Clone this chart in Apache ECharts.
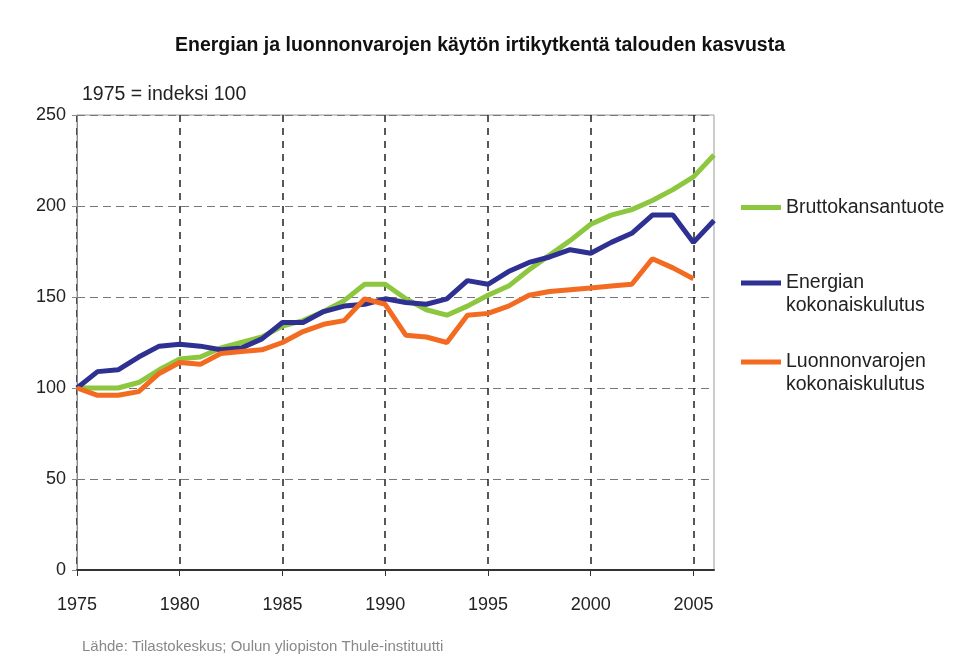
<!DOCTYPE html>
<html>
<head>
<meta charset="utf-8">
<script src="https://cdn.jsdelivr.net/npm/echarts@6/dist/echarts.min.js"></script>
<style>
html,body{margin:0;padding:0;background:#fff;}
#chart{width:960px;height:663px;}
</style>
</head>
<body>
<div id="chart"></div>
<script>
var years = [];
for (var y = 1975; y <= 2006; y++) years.push(String(y));

var seriesNames = ['Bruttokansantuote', 'Energian kokonaiskulutus', 'Luonnonvarojen kokonaiskulutus'];
var gdp = [100,100,100,103,110,116,117,122,125,128,134,137,142,148,157,157,149,143,140,145,151,156,165,173,181,190,195,198,203,209,216,228];
var energy = [100,109,110,117,123,124,123,121,122,127,136,136,142,145,146,149,147,146,149,159,157,164,169,172,176,174,180,185,195,195,180,192];
var resources = [100,96,96,98,108,114,113,119,120,121,125,131,135,137,149,146,129,128,125,140,141,145,151,153,154,155,156,157,171,166,160,null];
var colors = ['#8DC63F', '#2E3192', '#F26B21'];

var chart = echarts.init(document.getElementById('chart'));
var FONT = '"Liberation Sans", Arial, sans-serif';
function every5(idx, val) { return (parseInt(val, 10) - 1975) % 5 === 0; }

function legendFor(name, top) {
  return {
    show: true,
    data: [name],
    orient: 'vertical',
    left: 741,
    top: top,
    padding: 0,
    itemWidth: 40,
    itemHeight: 5,
    itemGap: 0,
    icon: 'rect',
    selectedMode: false,
    formatter: function (n) {
      // leading empty line keeps the icon level with the first text line
      if (n === 'Energian kokonaiskulutus') return '\nEnergian\nkokonaiskulutus';
      if (n === 'Luonnonvarojen kokonaiskulutus') return '\nLuonnonvarojen\nkokonaiskulutus';
      return n;
    },
    textStyle: { fontFamily: FONT, fontSize: 19.5, color: '#222', lineHeight: 23 }
  };
}

var option = {
  backgroundColor: '#fff',
  animation: false,
  title: [
    {
      text: 'Energian ja luonnonvarojen käytön irtikytkentä talouden kasvusta',
      left: 'center', top: 31,
      textStyle: { fontFamily: FONT, fontSize: 19.5, fontWeight: 'bold', color: '#111' }
    },
    {
      text: '1975 = indeksi 100',
      left: 77, top: 80,
      textStyle: { fontFamily: FONT, fontSize: 19.5, fontWeight: 'normal', color: '#222' }
    },
    {
      text: 'Lähde: Tilastokeskus; Oulun yliopiston Thule-instituutti',
      left: 77, top: 634,
      textStyle: { fontFamily: FONT, fontSize: 15, fontWeight: 'normal', color: '#888' }
    }
  ],
  legend: [
    legendFor(seriesNames[0], 196),
    legendFor(seriesNames[1], 248.5),
    legendFor(seriesNames[2], 327.5)
  ],
  grid: {
    left: 77, right: 246, top: 115, bottom: 93,
    show: true, borderColor: '#999', borderWidth: 1, backgroundColor: 'transparent'
  },
  xAxis: {
    type: 'category',
    data: years,
    boundaryGap: false,
    axisLine: { show: true, lineStyle: { color: '#333', width: 2 } },
    axisTick: { show: true, inside: false, length: 6, interval: every5, lineStyle: { color: '#333', width: 1 } },
    axisLabel: { interval: every5, margin: 26, fontFamily: FONT, fontSize: 18, color: '#222' },
    splitLine: { show: true, interval: every5, lineStyle: { color: '#222', type: [7, 6], width: 1.5 } }
  },
  yAxis: {
    type: 'value',
    min: 0, max: 250, interval: 50,
    axisLine: { show: true, lineStyle: { color: '#888', width: 1 } },
    axisTick: { show: true, inside: false, length: 5, lineStyle: { color: '#888' } },
    axisLabel: { margin: 11, fontFamily: FONT, fontSize: 18, color: '#222' },
    splitLine: { show: true, lineStyle: { color: '#777', type: [8, 5], width: 1 } }
  },
  series: [
    { name: seriesNames[0], type: 'line', data: gdp, showSymbol: false, symbol: 'none', lineStyle: { color: colors[0], width: 5 }, itemStyle: { color: colors[0] }, z: 3 },
    { name: seriesNames[1], type: 'line', data: energy, showSymbol: false, symbol: 'none', lineStyle: { color: colors[1], width: 5 }, itemStyle: { color: colors[1] }, z: 4 },
    { name: seriesNames[2], type: 'line', data: resources, showSymbol: false, symbol: 'none', lineStyle: { color: colors[2], width: 5 }, itemStyle: { color: colors[2] }, z: 5 }
  ]
};
chart.setOption(option);
</script>
</body>
</html>
